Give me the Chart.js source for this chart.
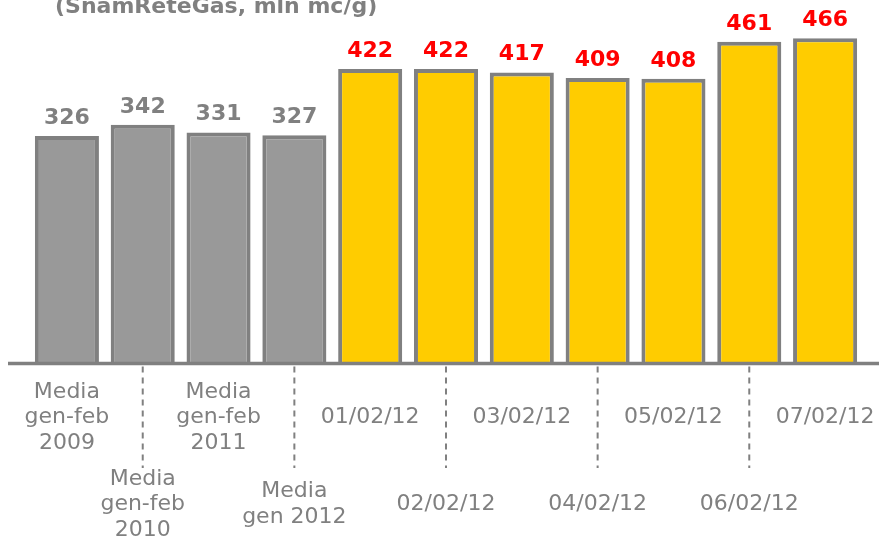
<!DOCTYPE html>
<html>
<head>
<meta charset="utf-8">
<script src="https://cdn.jsdelivr.net/npm/chart.js@4"></script>
<style>
  html, body { margin: 0; padding: 0; background: #ffffff; }
  #wrap { width: 879px; height: 539px; }
</style>
</head>
<body>
<div id="wrap"><canvas id="chart" width="879" height="539"></canvas></div>
<script>
const chartTitle = '(SnamReteGas, mln mc/g)';
const categories = [
    ['Media', 'gen-feb', '2009'],
    ['Media', 'gen-feb', '2010'],
    ['Media', 'gen-feb', '2011'],
    ['Media', 'gen 2012'],
    '01/02/12', '02/02/12', '03/02/12', '04/02/12', '05/02/12', '06/02/12', '07/02/12'
];
const values = [326, 342, 331, 327, 422, 422, 417, 409, 408, 461, 466];
const historicCount = 4; // first bars are the averages (grey)

(function app() {

    const grey = '#808080';
    const fontFamily = "'DejaVu Sans', Verdana, sans-serif";

    const isHistoric = i => i < historicCount;

    // value labels above each bar
    const valueLabels = {
        id: 'valueLabels',
        afterDatasetsDraw(chart) {
            const ctx = chart.ctx;
            const meta = chart.getDatasetMeta(0);
            ctx.save();
            ctx.font = 'bold 22px ' + fontFamily;
            ctx.textAlign = 'center';
            ctx.textBaseline = 'alphabetic';
            meta.data.forEach((bar, i) => {
                ctx.fillStyle = isHistoric(i) ? grey : '#FF0000';
                ctx.fillText(String(values[i]), bar.x, bar.y - 12);
            });
            ctx.restore();
        }
    };

    // base line, staggered category labels and dashed separators
    const axisDecor = {
        id: 'axisDecor',
        afterDraw(chart) {
            const ctx = chart.ctx;
            const x = chart.scales.x;
            const base = chart.scales.y.getPixelForValue(0);
            ctx.save();

            ctx.strokeStyle = grey;
            ctx.lineWidth = 3.5;
            ctx.beginPath();
            ctx.moveTo(8, base);
            ctx.lineTo(chart.width, base);
            ctx.stroke();

            ctx.font = '22px ' + fontFamily;
            ctx.fillStyle = grey;
            ctx.textAlign = 'center';
            ctx.textBaseline = 'alphabetic';
            const lineHeight = 25.5;
            categories.forEach((label, i) => {
                const lines = Array.isArray(label) ? label : [label];
                const px = x.getPixelForValue(i);
                const center = i % 2 === 0 ? 423 : 510;
                lines.forEach((line, j) => {
                    ctx.fillText(line, px, center + (j - (lines.length - 1) / 2) * lineHeight);
                });
                if (i % 2 === 1) {
                    ctx.lineWidth = 2;
                    ctx.setLineDash([6, 5]);
                    ctx.beginPath();
                    ctx.moveTo(px, base + 3);
                    ctx.lineTo(px, 468);
                    ctx.stroke();
                    ctx.setLineDash([]);
                }
            });

            ctx.font = 'bold 22px ' + fontFamily;
            ctx.textAlign = 'left';
            ctx.fillText(chartTitle, 55, 13);
            ctx.restore();
        }
    };

    const configuration = {
        type: 'bar',
        data: {
            labels: categories,
            datasets: [{
                data: values,
                backgroundColor: values.map((v, i) => isHistoric(i) ? '#999999' : '#FFCC00'),
                borderColor: grey,
                borderWidth: 4,
                borderSkipped: 'start',
                categoryPercentage: 1,
                barPercentage: 0.845
            }]
        },
        options: {
            responsive: false,
            animation: false,
            layout: {
                padding: { left: 29, right: 16, top: 14.5, bottom: 175.5 }
            },
            plugins: {
                legend: { display: false },
                tooltip: { enabled: false }
            },
            scales: {
                x: { display: false },
                y: { display: false, min: 0, max: 500 }
            }
        },
        plugins: [valueLabels, axisDecor]
    };

    new Chart(document.getElementById('chart'), configuration);
})();
</script>
</body>
</html>
